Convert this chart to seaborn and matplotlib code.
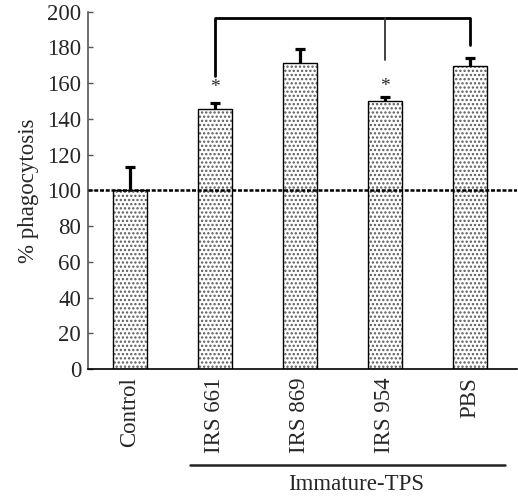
import numpy as np
import matplotlib
matplotlib.use("Agg")
import matplotlib.pyplot as plt
import matplotlib.transforms as mtransforms
import seaborn as sns

# ---- data ----
categories = ["Control", "IRS 661", "IRS 869", "IRS 954", "PBS"]
values = [100.0, 145.4, 171.2, 150.1, 169.5]
errors = [12.9, 3.4, 7.8, 2.0, 4.5]
star_categories = ["IRS 661", "IRS 954"]
star_y = [157.5, 158.1]
bracket_categories = ["IRS 661", "IRS 954", "PBS"]
bracket_leg_bottoms = [164.0, 173.0, 181.4]
bracket_top = 196.4
reference_level = 100
group_label = "Immature-TPS"
group_first, group_last = "IRS 661", "PBS"
yticks = list(range(0, 201, 20))
ylabel = "% phagocytosis"

sns.set_style("ticks")
plt.rcParams["font.family"] = ["Liberation Serif", "DejaVu Serif"]
plt.rcParams["hatch.linewidth"] = 1.1

W, H = 518, 497
fig = plt.figure(figsize=(W / 100, H / 100), dpi=100)
ax = fig.add_axes([88 / W, (H - 369) / H, (517 - 88) / W, (369 - 11.7) / H])

pos = np.arange(len(categories))

# hatched fill
sns.barplot(x=categories, y=values, width=0.41, color="white",
            edgecolor="#5a5a5a", hatch="....", linewidth=0, ax=ax, zorder=2)
# outline
sns.barplot(x=categories, y=values, width=0.41, fill=False, color="black",
            linewidth=1.0, ax=ax, zorder=3)

# error bars (upper only)
eb = ax.errorbar(pos, values, yerr=[np.zeros(len(values)), errors], fmt="none",
                 ecolor="black", elinewidth=2.3, capsize=3.8, capthick=2.3, zorder=4)
for cl in eb[1]:
    if np.allclose(cl.get_ydata(), values):
        cl.set_visible(False)

# reference line at 100
ax.axhline(reference_level, color="black", lw=1.8, ls=(0, (1.6, 0.7)), zorder=5)

# stars
for c, y in zip(star_categories, star_y):
    ax.text(categories.index(c), y, "*", ha="center", va="center", fontsize=14)

# bracket
bx = [categories.index(c) for c in bracket_categories]
ax.plot([bx[0], bx[-1]], [bracket_top, bracket_top], color="black", lw=2.0,
        clip_on=False, solid_capstyle="butt")
for i, (x, yb) in enumerate(zip(bx, bracket_leg_bottoms)):
    ax.plot([x, x], [yb, bracket_top], color="black" if i != 1 else "#333",
            lw=2.0 if i != 1 else 1.3, clip_on=False)

# axes styling
ax.set_xlim(-0.494, 4.553)
ax.set_ylim(0, 200)
ax.set_yticks(yticks)
ax.set_xticks(pos)
ax.set_xticklabels(categories, rotation=90, fontsize=16.5)
ax.set_xlabel("")
ax.set_ylabel(ylabel, fontsize=16.5, labelpad=6)
ax.tick_params(axis="y", direction="in", length=3.5, width=1.0, color="#555",
               labelsize=16.5, pad=5)
ax.tick_params(axis="x", length=0, pad=6)
for s in ["top", "right"]:
    ax.spines[s].set_visible(False)
ax.spines["left"].set_color("#555")
ax.spines["left"].set_linewidth(1.2)
ax.spines["bottom"].set_color("black")
ax.spines["bottom"].set_linewidth(1.2)

# group line + label below axis
trans = mtransforms.blended_transform_factory(ax.transData, ax.transAxes)
gx0 = categories.index(group_first) - 0.29
gx1 = categories.index(group_last) + 0.41
ax.plot([gx0, gx1], [-0.268, -0.268], transform=trans, color="#222", lw=1.8,
        clip_on=False)
ax.text((gx0 + gx1) / 2 + 0.1, -0.322, group_label, transform=trans,
        ha="center", va="center", fontsize=16.5)

fig.savefig("out.png", dpi=100)
